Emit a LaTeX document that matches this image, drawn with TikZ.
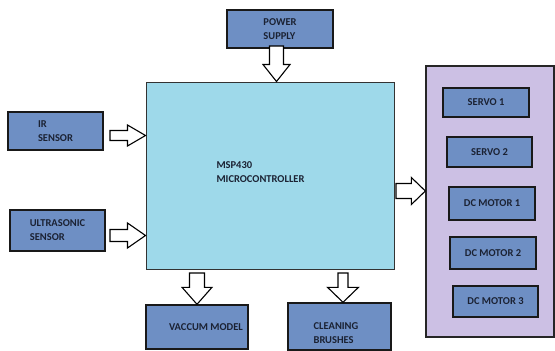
\documentclass[tikz,border=0pt]{standalone}
\usepackage{fontspec}
\setmainfont{Carlito}
\usetikzlibrary{calc}
\definecolor{boxblue}{HTML}{6E8FC4}
\definecolor{mcucyan}{HTML}{9ED9EA}
\definecolor{panellav}{HTML}{CCC0E4}
\definecolor{txt}{HTML}{1B2233}
\def\aSW{5pt}\def\aHW{10pt}\def\aHL{15pt}
\tikzset{
  arrowsw/.store in=\aSW, arrowhw/.store in=\aHW, arrowhl/.store in=\aHL,
  box/.style={draw=black!90, line width=1.4pt, fill=boxblue, inner sep=0pt,
    font=\bfseries\fontsize{10.5}{14}\selectfont, text=txt, align=left},
  txtlabel/.style={font=\bfseries\fontsize{10.5}{14}\selectfont, text=txt, align=left, inner sep=0pt},
  barrow/.style={draw=black, line width=1.1pt, fill=white, line join=miter,
    to path={($(\tikztostart)!\aSW!-90:(\tikztotarget)$)
      -- ($($(\tikztotarget)!\aHL!(\tikztostart)$)!\aSW!90:(\tikztostart)$)
      -- ($($(\tikztotarget)!\aHL!(\tikztostart)$)!\aHW!90:(\tikztostart)$)
      -- (\tikztotarget)
      -- ($($(\tikztotarget)!\aHL!(\tikztostart)$)!\aHW!-90:(\tikztostart)$)
      -- ($($(\tikztotarget)!\aHL!(\tikztostart)$)!\aSW!-90:(\tikztostart)$)
      -- ($(\tikztostart)!\aSW!90:(\tikztotarget)$) -- cycle}}
}
\begin{document}
\begin{tikzpicture}[x=1pt,y=-1pt]
\useasboundingbox (0,0) rectangle (555,351);
% panel
\node[draw=black!85, line width=1.3pt, fill=panellav, minimum width=128pt, minimum height=271pt, inner sep=0pt] (panel) at (490,201.5) {};
% main blocks
\node[draw=black!80, line width=1pt, fill=mcucyan, minimum width=248pt, minimum height=187pt, inner sep=0pt,
  label={[txtlabel, name=mcutext, xshift=-9.5pt, yshift=3pt]center:{MSP430\\MICROCONTROLLER}}] (mcu) at (270,175.5) {};
\node[box, minimum width=106pt, minimum height=38pt] (pw) at (280,29) {POWER\\SUPPLY};
\node[box, minimum width=95pt, minimum height=38pt] (ir) at (55.5,131) {IR\\SENSOR};
\node[box, minimum width=95pt, minimum height=41pt] (us) at (57.5,230.5) {ULTRASONIC\\SENSOR};
\node[box, minimum width=102pt, minimum height=44pt,
  label={[txtlabel, name=vactext, xshift=9pt]center:{VACCUM MODEL}}] (vac) at (197,327) {};
\node[box, minimum width=103pt, minimum height=47pt,
  label={[txtlabel, name=brushtext, xshift=-3.5pt, yshift=-6.5pt]center:{CLEANING\\BRUSHES}}] (brush) at (339.5,326.5) {};
% panel items
\node[box, minimum width=86pt, minimum height=29pt] (s1) at (486,102.5) {SERVO 1};
\node[box, minimum width=85pt, minimum height=30pt] (s2) at (489.5,152) {SERVO 2};
\node[box, minimum width=86pt, minimum height=33pt] (m1) at (492,203.5) {DC MOTOR 1};
\node[box, minimum width=86pt, minimum height=32pt] (m2) at (493,253) {DC MOTOR 2};
\node[box, minimum width=85pt, minimum height=31pt] (m3) at (495.5,301.5) {DC MOTOR 3};
% arrow start points
\coordinate (pws) at (276.5,46);
\coordinate (irs) at (110,135.5);
\coordinate (uss) at (110,235.5);
\coordinate (rs) at (396,191);
\coordinate (vacs) at (197,273);
\coordinate (brs) at (343,273);
% block arrows
\draw[barrow, arrowsw=7pt, arrowhw=13.5pt, arrowhl=17pt] (pws) to (pws |- mcu.north);
\draw[barrow, arrowsw=5pt, arrowhw=10.5pt, arrowhl=18pt] (irs) to (mcu.west |- irs);
\draw[barrow, arrowsw=6pt, arrowhw=12.5pt, arrowhl=18pt] (uss) to (mcu.west |- uss);
\draw[barrow, arrowsw=7.5pt, arrowhw=13.5pt, arrowhl=14pt] (rs) to (panel.west |- rs);
\draw[barrow, arrowsw=7.5pt, arrowhw=15pt, arrowhl=17pt] (vacs) to (vacs |- vac.north);
\draw[barrow, arrowsw=5pt, arrowhw=15.5pt, arrowhl=15pt] (brs) to (brs |- brush.north);
\end{tikzpicture}
\end{document}
